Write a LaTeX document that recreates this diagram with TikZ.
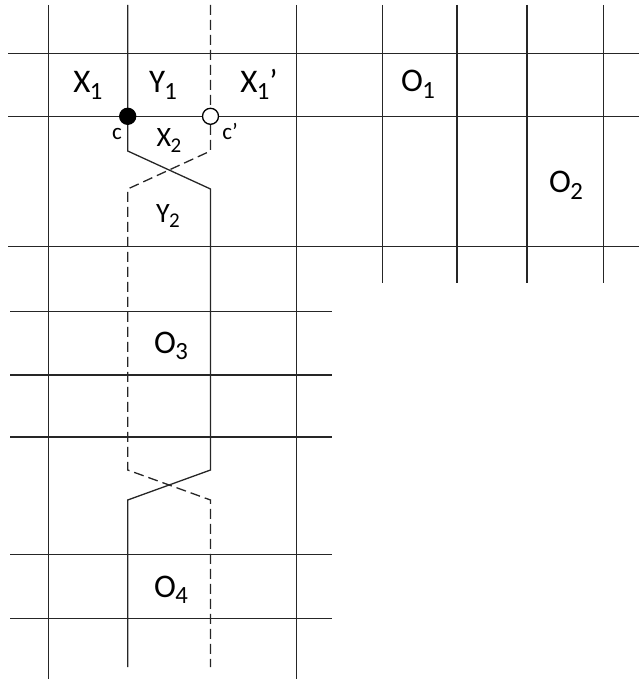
\documentclass[tikz,border=0pt]{standalone}
\usepackage{fontspec}
\setmainfont{Carlito}
\newcommand\lsub[1]{\kern-0.02em\raisebox{-0.2em}{\scalebox{0.75}{#1}}}
\tikzset{
  gridline/.style={line width=1.3pt, black!85},
  solidstrand/.style={line width=1.3pt, black!85},
  dashstrand/.style={line width=1.3pt, black!85, dash pattern=on 10pt off 5pt},
  biglab/.style={anchor=base, inner sep=0pt, font=\fontsize{33}{33}\selectfont},
  midlab/.style={anchor=base, inner sep=0pt, font=\fontsize{28}{28}\selectfont},
  smalllab/.style={anchor=base, inner sep=0pt, font=\fontsize{23}{23}\selectfont},
  crossdot/.style={circle, draw=black, line width=1.3pt, minimum size=16pt, inner sep=0pt}
}
\begin{document}
\begin{tikzpicture}[x=1pt,y=-1pt]
\useasboundingbox (0,0) rectangle (639,679);
% horizontal grid lines, upper part
\foreach \yy in {53.3,116.3,246.7} \draw[gridline] (8,\yy) -- (639,\yy);
% horizontal grid lines, lower part
\foreach \yy in {311.7,375,437,554.7,618.3} \draw[gridline] (10,\yy) -- (332,\yy);
% long vertical lines
\foreach \xx in {48.3,296.5} \draw[gridline] (\xx,5) -- (\xx,679);
% short vertical lines on the right
\foreach \xx in {382.3,457,527,603.3} \draw[gridline] (\xx,5) -- (\xx,283);
% strand points
\coordinate (cpt) at (127.7,116.3);
\coordinate (cppt) at (210.5,116.3);
\coordinate (stop) at (127.7,5);
\coordinate (s1) at (127.7,151);
\coordinate (s2) at (210.5,189);
\coordinate (s3) at (210.5,470);
\coordinate (s4) at (127.7,500);
\coordinate (send) at (127.7,667);
\coordinate (dtop) at (210.5,5);
\coordinate (d1) at (210.5,151);
\coordinate (d2) at (127.7,189);
\coordinate (d3) at (127.7,470);
\coordinate (d4) at (210.5,500);
\coordinate (dend) at (210.5,667);
\draw[solidstrand] (stop) -- (cpt) -- (s1) -- (s2) -- (s3) -- (s4) -- (send);
\draw[dashstrand] (dtop) -- (cppt) -- (d1) -- (d2) -- (d3) -- (d4) -- (dend);
\node[crossdot, fill=black] (c) at (cpt) {};
\node[crossdot, fill=white] (cp) at (cppt) {};
% labels
\node[biglab] (lx1) at (88,93) {X\lsub{1}};
\node[biglab] (ly1) at (163,93) {Y\lsub{1}};
\node[biglab] (lx1p) at (259,93) {X\lsub{1}’};
\node[biglab] (lo1) at (418,92) {O\lsub{1}};
\node[biglab] (lo2) at (566,193) {O\lsub{2}};
\node[midlab] (lx2) at (169,147) {X\lsub{2}};
\node[midlab] (ly2) at (168,222) {Y\lsub{2}};
\node[biglab] (lo3) at (171,353) {O\lsub{3}};
\node[biglab] (lo4) at (171,597) {O\lsub{4}};
\node[smalllab] (lc) at (117,140) {c};
\node[smalllab] (lcp) at (230,140) {c’};
\end{tikzpicture}
\end{document}
